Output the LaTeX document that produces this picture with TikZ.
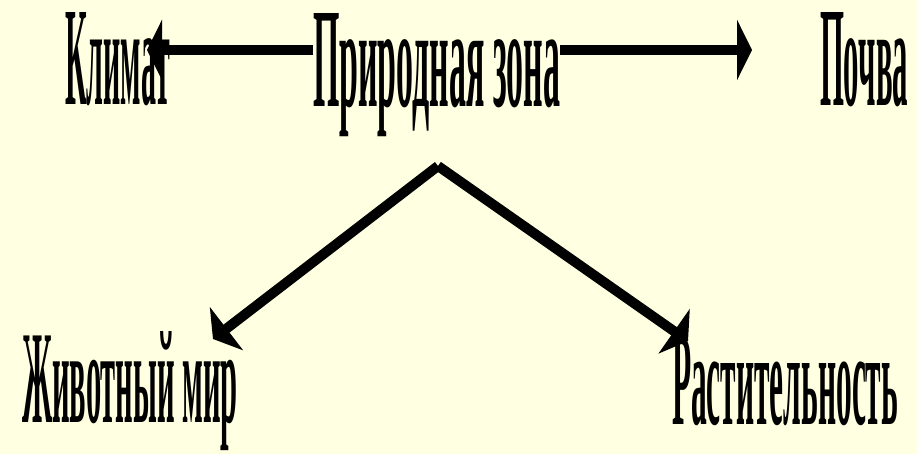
\documentclass[tikz,border=0pt]{standalone}
\usepackage{fontspec}
\setmainfont{Liberation Serif}
\usepackage{graphicx}
\usetikzlibrary{arrows.meta}
\definecolor{bg}{HTML}{FFFFE1}
\begin{document}
\begin{tikzpicture}[x=1pt,y=1pt,
  lbl/.style={inner sep=0pt, outer sep=0pt, anchor=base west, font=\bfseries},
  harr/.style={line width=10pt, line cap=butt, -{Triangle[length=15pt,width=60pt]}},
  darr/.style={line width=10pt, line cap=butt, -{Triangle[length=17pt,width=54pt]}}]
\fill[bg] (0,0) rectangle (917,454);
\useasboundingbox (0,0) rectangle (917,454);
\node[lbl] (klimat) at (65,349) {\resizebox{105pt}{92pt}{Климат}};
\node[lbl] (pz) at (313,347) {\resizebox{247pt}{93pt}{Природная зона}};
\node[lbl] (pochva) at (820,348) {\resizebox{88pt}{93pt}{Почва}};
\node[lbl] (zhm) at (22,31) {\resizebox{216pt}{91pt}{Животный мир}};
\node[lbl] (rast) at (672,29) {\resizebox{226pt}{87pt}{Растительность}};
\coordinate (klTip) at (147,404);
\coordinate (poTip) at (752,404);
\coordinate (top) at (438,288);
\coordinate (zhTip) at (213,115);
\coordinate (raTip) at (688,113);
\draw[harr] (pz.west |- klTip) -- (klTip);
\draw[harr] (pz.east |- poTip) -- (poTip);
\draw[darr] (top) -- (zhTip);
\draw[darr] (top) -- (raTip);
\end{tikzpicture}
\end{document}
